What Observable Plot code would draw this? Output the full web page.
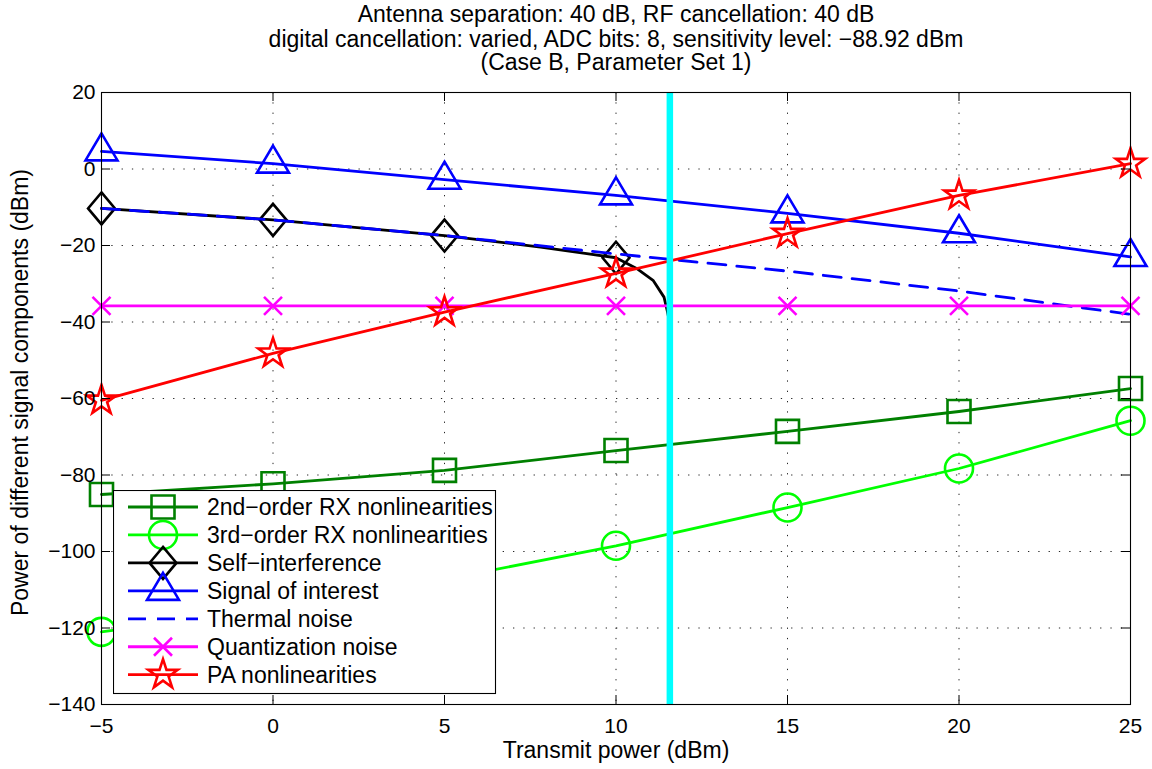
<!DOCTYPE html>
<html><head><meta charset="utf-8">
<script src="https://cdn.jsdelivr.net/npm/d3@7"></script>
<script src="https://cdn.jsdelivr.net/npm/@observablehq/plot@0.6"></script>
<style>
body{margin:0;background:#fff;}
#wrap{position:relative;width:1152px;height:769px;font-family:"Liberation Sans",Arial,sans-serif;}
#legend{position:absolute;left:113px;top:490px;}
</style></head><body><div id="wrap"></div>
<script>
// ---- data ----
const txPower = [-5, 0, 5, 10, 15, 20, 25];
const rx2nd = [-85.1, -82.3, -78.8, -73.6, -68.6, -63.4, -57.4];
const rx3rd = [-121, -115, -107.3, -98.5, -88.5, -78.3, -65.8];
const siX = [-5, 0, 5, 7.8, 10, 10.6, 11.08, 11.4, 11.49, 11.55];
const selfInterf = [-10.3, -13.3, -17.4, -20.4, -23.2, -26, -29.1, -33.5, -36.9, -39.5];
const soi = [4.6, 1.4, -2.8, -6.9, -11.6, -16.8, -23];
const thermal = [-10.3, -13.3, -17.4, -22.2, -26.7, -31.9, -38.0];
const quant = [-35.8, -35.8, -35.8, -35.8, -35.8, -35.8, -35.8];
const paNL = [-60.5, -48.2, -37.4, -27.3, -16.9, -6.9, 1.4];
const cancelLimit = [11.57];
const xTicks = [-5, 0, 5, 10, 15, 20, 25];
const yTicks = [-140, -120, -100, -80, -60, -40, -20, 0, 20];
const titleLines = [
  "Antenna separation: 40 dB, RF cancellation: 40 dB",
  "digital cancellation: varied, ADC bits: 8, sensitivity level: \u221288.92 dBm",
  "(Case B, Parameter Set 1)"
];
const xLabel = "Transmit power (dBm)";
const yLabel = "Power of different signal components (dBm)";
const seriesNames = ["2nd\u2212order RX nonlinearities", "3rd\u2212order RX nonlinearities",
  "Self\u2212interference", "Signal of interest", "Thermal noise", "Quantization noise", "PA nonlinearities"];

// ---- symbols (MATLAB-like) ----
const R = s => Math.sqrt(s / Math.PI);
const symSquare = {draw(c, s){const r=R(s); c.moveTo(-r,-r); c.lineTo(r,-r); c.lineTo(r,r); c.lineTo(-r,r); c.closePath();}};
const symCircle = {draw(c, s){const r=R(s); c.moveTo(r,0); c.arc(0,0,r,0,2*Math.PI);}};
const symDiamond = {draw(c, s){const r=R(s), w=r*0.84; c.moveTo(0,-r); c.lineTo(w,0); c.lineTo(0,r); c.lineTo(-w,0); c.closePath();}};
const symTri = {draw(c, s){const r=R(s), h=r*27/16; c.moveTo(0,-2*h/3); c.lineTo(r,h/3); c.lineTo(-r,h/3); c.closePath();}};
const symX = {draw(c, s){const r=R(s); c.moveTo(-r,-r); c.lineTo(r,r); c.moveTo(r,-r); c.lineTo(-r,r);}};
const symStar = {draw(c, s){const r=R(s), ri=r*0.382; for(let k=0;k<10;k++){const a=-Math.PI/2+k*Math.PI/5, rr=k%2?ri:r; const px=rr*Math.cos(a), py=rr*Math.sin(a); if(k===0) c.moveTo(px,py); else c.lineTo(px,py);} c.closePath();}};

const styles = [
  {color:"rgb(0,128,0)", sym:symSquare, r:11.5},
  {color:"rgb(0,255,0)", sym:symCircle, r:14},
  {color:"black", sym:symDiamond, r:16},
  {color:"rgb(0,0,255)", sym:symTri, r:16},
  {color:"rgb(0,0,255)", sym:null, r:0, dash:"18,11"},
  {color:"rgb(255,0,255)", sym:symX, r:9},
  {color:"red", sym:symStar, r:15.5}
];

const toRows = (xs, ys) => xs.map((x, i) => ({x, y: ys[i]}));
const series = [
  toRows(txPower, rx2nd), toRows(txPower, rx3rd), toRows(siX, selfInterf),
  toRows(txPower, soi), toRows(txPower, thermal), toRows(txPower, quant), toRows(txPower, paNL)
];
const markerRows = series.map((rows, i) => i === 2 ? rows.filter(d => txPower.includes(d.x)) : rows);

const W = 1152, H = 769, mL = 101, mR = 22, mT = 92, mB = 65;
const fw = W - mL - mR, fh = H - mT - mB;
const LW = 2.8;
const tickFont = 21, labelFont = 23;

const marks = [
  Plot.gridX(xTicks, {stroke:"black", strokeOpacity:0.85, strokeWidth:1, strokeDasharray:"1.3,9"}),
  Plot.gridY(yTicks, {stroke:"black", strokeOpacity:0.85, strokeWidth:1, strokeDasharray:"1.3,9"})
];
series.forEach((rows, i) => {
  const st = styles[i];
  marks.push(Plot.line(rows, {x:"x", y:"y", stroke:st.color, strokeWidth:LW, strokeDasharray:st.dash}));
  if (st.sym) marks.push(Plot.dot(markerRows[i], {x:"x", y:"y", symbol:st.sym, r:st.r, fill:"none", stroke:st.color, strokeWidth:2.6}));
});
const txt = {fill:"black", fontSize:labelFont, lineAnchor:"middle", textAnchor:"middle"};
marks.push(
  Plot.ruleX(cancelLimit, {stroke:"rgb(0,255,255)", strokeWidth:6.5}),
  Plot.frame({stroke:"black", strokeWidth:1.1}),
  Plot.tickX(xTicks, {x:d=>d, insetTop:fh-9, stroke:"black"}),
  Plot.tickX(xTicks, {x:d=>d, insetBottom:fh-9, stroke:"black"}),
  Plot.tickY(yTicks, {y:d=>d, insetRight:fw-9, stroke:"black"}),
  Plot.tickY(yTicks, {y:d=>d, insetLeft:fw-9, stroke:"black"}),
  Plot.axisX(xTicks, {tickSize:0, tickPadding:14, fontSize:tickFont, label:null, fill:"black"}),
  Plot.axisY(yTicks, {tickSize:0, tickPadding:6, fontSize:tickFont, label:null, fill:"black"}),
  Plot.text([titleLines[0]], {...txt, frameAnchor:"top", dy:-77.5}),
  Plot.text([titleLines[1]], {...txt, frameAnchor:"top", dy:-53}),
  Plot.text([titleLines[2]], {...txt, frameAnchor:"top", dy:-29.5}),
  Plot.text([xLabel], {...txt, frameAnchor:"bottom", dy:46.5}),
  Plot.text([yLabel], {...txt, frameAnchor:"left", rotate:-90, dx:-81, dy:-6})
);

const chart = Plot.plot({
  width: W, height: H,
  marginLeft: mL, marginRight: mR, marginTop: mT, marginBottom: mB,
  style: {fontFamily: '"Liberation Sans", Arial, Helvetica, sans-serif', fontSize: tickFont + "px", background: "white", color: "black"},
  x: {domain: [-5, 25], ticks: xTicks},
  y: {domain: [-140, 20], ticks: yTicks},
  marks
});
const wrap = document.getElementById("wrap");
wrap.appendChild(chart);

// ---- legend ----
const lgW = 382, lgH = 203, rowH = 27.95, row0 = 17;
const lg = d3.select(wrap).append("svg").attr("id", "legend").attr("width", lgW + 2).attr("height", lgH + 2);
lg.append("rect").attr("x", 0.5).attr("y", 0.5).attr("width", lgW).attr("height", lgH).attr("fill", "white").attr("stroke", "black").attr("stroke-width", 1.1);
seriesNames.forEach((name, i) => {
  const st = styles[i], cy = row0 + i * rowH;
  lg.append("line").attr("x1", 15).attr("x2", 85).attr("y1", cy).attr("y2", cy)
    .attr("stroke", st.color).attr("stroke-width", LW).attr("stroke-dasharray", st.dash || null);
  if (st.sym) lg.append("path").attr("transform", `translate(50,${cy})`)
    .attr("d", d3.symbol(st.sym, st.r * st.r * Math.PI)()).attr("fill", "none").attr("stroke", st.color).attr("stroke-width", 2.6);
  lg.append("text").attr("x", 94).attr("y", cy).attr("dy", "0.35em").attr("font-size", labelFont)
    .attr("font-family", '"Liberation Sans", Arial, sans-serif').attr("fill", "black").text(name);
});
</script></body></html>
